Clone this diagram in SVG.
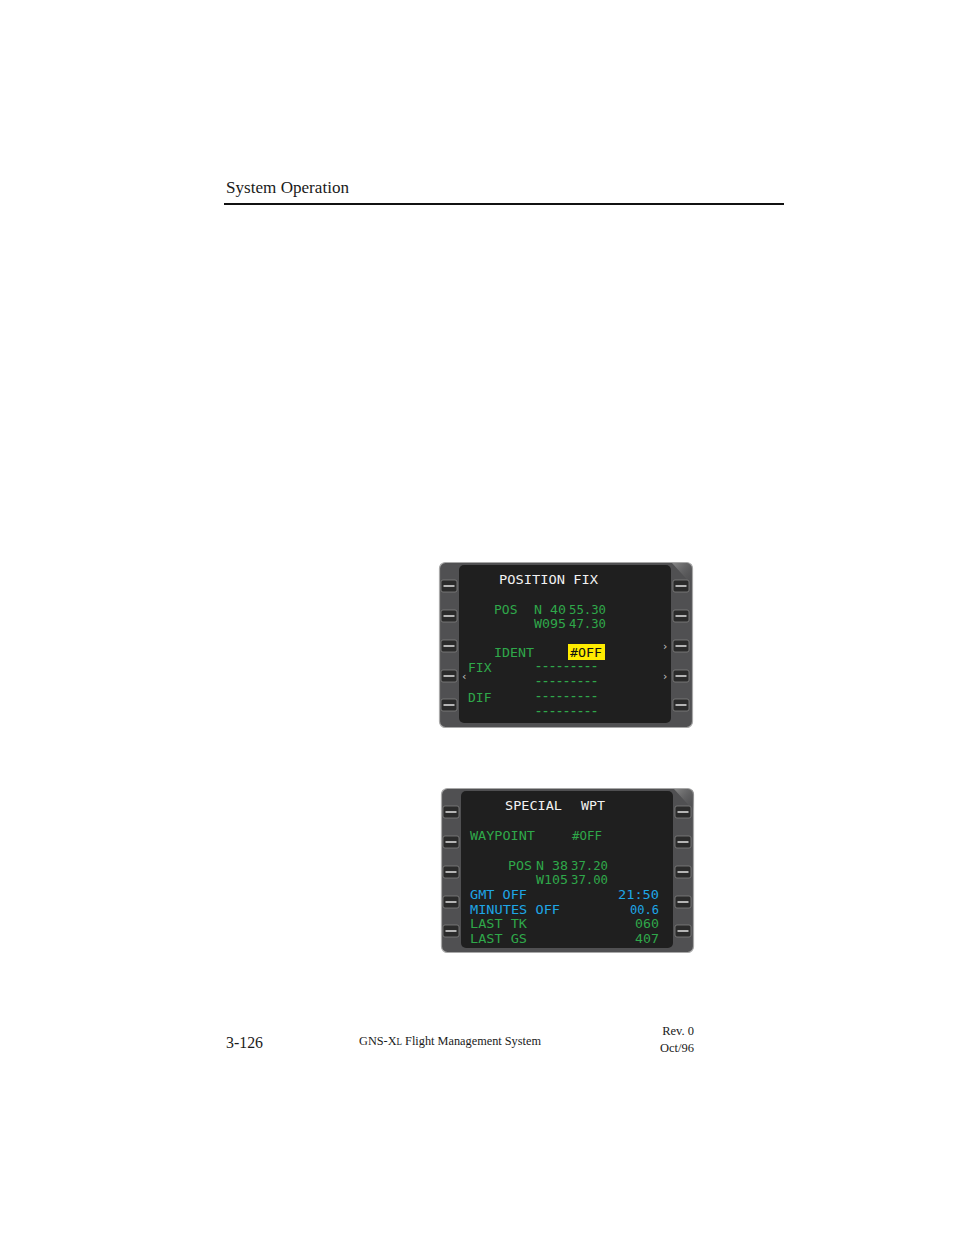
<svg xmlns="http://www.w3.org/2000/svg" width="954" height="1235" viewBox="0 0 954 1235">
<style>
.serif{font-family:"Liberation Serif","Times New Roman",serif;fill:#1a1a1a}
.mono{font-family:"DejaVu Sans Mono","Liberation Mono",monospace;font-size:13px}
.dash{font-size:8px;font-weight:bold}
.w{fill:#f2f2f2}.g{fill:#2fa84a}.b{fill:#1ea6e6}.k{fill:#111}
.bezel{fill:#505052;stroke:#a8a8a8;stroke-width:1.2}
.screen{fill:#1f1f1f}
.btn{fill:#2b2b2b;stroke:#808080;stroke-width:0.8}
.btnl{stroke:#d8d8d8;stroke-width:1.6}
.arr{fill:#c4c4c4;font-family:"DejaVu Sans",sans-serif;font-size:11px}
</style>
<defs>
<g id="button"><rect class="btn" x="0" y="-6" width="16" height="12" rx="2"/><line class="btnl" x1="2.5" y1="0" x2="13.5" y2="0"/></g>
<linearGradient id="sheen" x1="0" y1="0" x2="1" y2="1"><stop offset="0" stop-color="#8a8a8a"/><stop offset="1" stop-color="#505052" stop-opacity="0"/></linearGradient>
</defs>
<rect width="954" height="1235" fill="#fff"/>

<g id="header">
<text class="serif" x="226" y="193" font-size="17.5" textLength="123" lengthAdjust="spacingAndGlyphs">System Operation</text>
<line x1="224" y1="204" x2="784" y2="204" stroke="#111" stroke-width="2"/>
</g>

<g id="position-fix">
<rect class="bezel" x="439.5" y="562.5" width="253" height="165" rx="6"/>
<path d="M672 563 L686 563 Q692 563 692 569 L692 585 Z" fill="url(#sheen)"/>
<rect class="screen" x="459" y="565" width="212" height="158" rx="5"/>
<use href="#button" x="441" y="586"/><use href="#button" x="441" y="616"/><use href="#button" x="441" y="646"/><use href="#button" x="441" y="676"/><use href="#button" x="441" y="705"/>
<use href="#button" x="673" y="586"/><use href="#button" x="673" y="616"/><use href="#button" x="673" y="646"/><use href="#button" x="673" y="676"/><use href="#button" x="673" y="705"/>
<g class="mono">
<text class="w" x="499" y="584" textLength="99" lengthAdjust="spacingAndGlyphs">POSITION FIX</text>
<text class="g" x="494" y="614">POS</text>
<text class="g" x="534" y="614" textLength="32" lengthAdjust="spacingAndGlyphs">N 40</text>
<text class="g" x="569" y="614" textLength="37" lengthAdjust="spacingAndGlyphs">55.30</text>
<text class="g" x="534" y="628" textLength="32" lengthAdjust="spacingAndGlyphs">W095</text>
<text class="g" x="569" y="628" textLength="37" lengthAdjust="spacingAndGlyphs">47.30</text>
<text class="g" x="494" y="657" textLength="40" lengthAdjust="spacingAndGlyphs">IDENT</text>
<rect x="568" y="644" width="37" height="16" fill="#ffec00"/>
<text class="k" x="570" y="657" textLength="32" lengthAdjust="spacingAndGlyphs">#OFF</text>
<text class="g" x="468" y="672">FIX</text>
<text class="g" x="468" y="702">DIF</text>
<text class="g dash" x="535" y="669" textLength="63" lengthAdjust="spacingAndGlyphs">---------</text>
<text class="g dash" x="535" y="684" textLength="63" lengthAdjust="spacingAndGlyphs">---------</text>
<text class="g dash" x="535" y="699" textLength="63" lengthAdjust="spacingAndGlyphs">---------</text>
<text class="g dash" x="535" y="714" textLength="63" lengthAdjust="spacingAndGlyphs">---------</text>
</g>
<text class="arr" x="462" y="680">‹</text>
<text class="arr" x="663" y="650">›</text>
<text class="arr" x="663" y="680">›</text>
</g>

<g id="special-wpt">
<rect class="bezel" x="441.5" y="788.5" width="252" height="164" rx="6"/>
<path d="M674 789 L688 789 Q694 789 694 795 L694 811 Z" fill="url(#sheen)"/>
<rect class="screen" x="461" y="791" width="212" height="157" rx="5"/>
<use href="#button" x="443" y="812"/><use href="#button" x="443" y="842"/><use href="#button" x="443" y="872"/><use href="#button" x="443" y="902"/><use href="#button" x="443" y="931"/>
<use href="#button" x="675" y="812"/><use href="#button" x="675" y="842"/><use href="#button" x="675" y="872"/><use href="#button" x="675" y="902"/><use href="#button" x="675" y="931"/>
<g class="mono">
<text class="w" x="505" y="810" textLength="57" lengthAdjust="spacingAndGlyphs">SPECIAL</text>
<text class="w" x="581" y="810" textLength="24" lengthAdjust="spacingAndGlyphs">WPT</text>
<text class="g" x="470" y="840" textLength="65" lengthAdjust="spacingAndGlyphs">WAYPOINT</text>
<text class="g" x="572" y="840" textLength="30" lengthAdjust="spacingAndGlyphs">#OFF</text>
<text class="g" x="508" y="870" textLength="24" lengthAdjust="spacingAndGlyphs">POS</text>
<text class="g" x="536" y="870" textLength="32" lengthAdjust="spacingAndGlyphs">N 38</text>
<text class="g" x="571" y="870" textLength="37" lengthAdjust="spacingAndGlyphs">37.20</text>
<text class="g" x="536" y="884" textLength="32" lengthAdjust="spacingAndGlyphs">W105</text>
<text class="g" x="571" y="884" textLength="37" lengthAdjust="spacingAndGlyphs">37.00</text>
<text class="b" x="470" y="899" textLength="57" lengthAdjust="spacingAndGlyphs">GMT OFF</text>
<text class="b" x="618" y="899" textLength="41" lengthAdjust="spacingAndGlyphs">21:50</text>
<text class="b" x="470" y="914" textLength="90" lengthAdjust="spacingAndGlyphs">MINUTES OFF</text>
<text class="b" x="630" y="914" textLength="29" lengthAdjust="spacingAndGlyphs">00.6</text>
<text class="g" x="470" y="928" textLength="57" lengthAdjust="spacingAndGlyphs">LAST TK</text>
<text class="g" x="635" y="928" textLength="24" lengthAdjust="spacingAndGlyphs">060</text>
<text class="g" x="470" y="943" textLength="57" lengthAdjust="spacingAndGlyphs">LAST GS</text>
<text class="g" x="635" y="943" textLength="24" lengthAdjust="spacingAndGlyphs">407</text>
</g>
</g>

<g id="footer">
<text class="serif" x="226" y="1048" font-size="17.5" textLength="37" lengthAdjust="spacingAndGlyphs">3-126</text>
<text class="serif" x="359" y="1045" font-size="13" textLength="182" lengthAdjust="spacingAndGlyphs">GNS-X<tspan font-size="9.5">L</tspan> Flight Management System</text>
<text class="serif" x="694" y="1035" font-size="12.5" text-anchor="end">Rev. 0</text>
<text class="serif" x="694" y="1052" font-size="12.5" text-anchor="end">Oct/96</text>
</g>
</svg>
